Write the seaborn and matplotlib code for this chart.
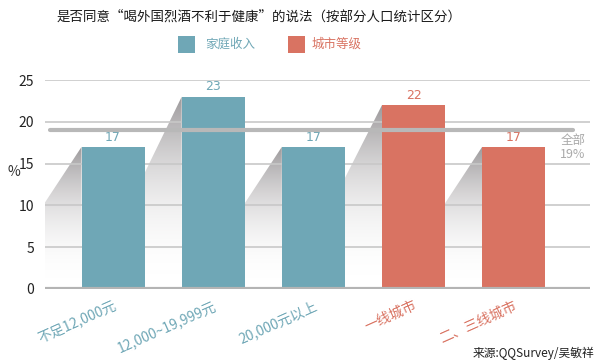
import numpy as np
import pandas as pd
import matplotlib
matplotlib.use("Agg")
import matplotlib.pyplot as plt
import seaborn as sns
from matplotlib.patches import Polygon, Rectangle

categories = ["不足12,000元", "12,000~19,999元", "20,000元以上", "一线城市", "二、三线城市"]
values = [17, 23, 17, 22, 17]
groups = ["家庭收入", "家庭收入", "家庭收入", "城市等级", "城市等级"]
overall = 19
title = "是否同意“喝外国烈酒不利于健康”的说法（按部分人口统计区分）"
source = "来源:QQSurvey/吴敏祥"

blue = "#6fa7b6"
red = "#d97362"
palette = {"家庭收入": blue, "城市等级": red}

sns.set_style("white")
plt.rcParams['font.family'] = ['Noto Sans CJK SC', 'DejaVu Sans']

df = pd.DataFrame({"cat": categories, "val": values, "grp": groups})

fig = plt.figure(figsize=(6, 3.62), dpi=100)
ax = fig.add_axes([0.075, 0.2017, 0.908, 0.5773])

sns.barplot(data=df, x="cat", y="val", hue="grp", palette=palette, dodge=False,
            width=0.63, saturation=1, ax=ax, legend=False, zorder=3, linewidth=0)

for y in [5, 10, 15, 20, 25]:
    ax.axhline(y, color="#c8c8c8", lw=1.2, zorder=1)
ax.axhline(0, color="#b4b4b4", lw=3, zorder=4)
ax.axhline(overall, xmin=0.01, xmax=0.97, color="#b8b8b8", lw=3, zorder=4)

# shadows derived from bar patches
grad = np.linspace(1, 0, 256).reshape(-1, 1)
cmap = matplotlib.colors.LinearSegmentedColormap.from_list("sh", ["#ffffff", "#9c999b"])
for p in ax.patches:
    x0 = p.get_x()
    h = p.get_height()
    poly = Polygon([(x0, h), (x0 - 0.42, h * 0.55), (x0 - 0.42, 0), (x0, 0)],
                   closed=True, transform=ax.transData, facecolor="none", edgecolor="none")
    ax.add_patch(poly)
    im = ax.imshow(grad ** 2.2, extent=(x0 - 0.42, x0, 0, h), cmap=cmap, aspect="auto",
                   zorder=0.5, vmin=0, vmax=1)
    im.set_clip_path(poly)
ax.set_xlim(-0.68, 4.76)
ax.set_ylim(0, 25)
ax.set_yticks([0, 5, 10, 15, 20, 25])

for i, (v, g) in enumerate(zip(values, groups)):
    ax.text(i, v + 0.4, str(v), ha="center", va="bottom", fontsize=9,
            color=palette[g], family=['DejaVu Sans'])

ax.text(4.72, overall - 0.4, "全部\n19%", ha="right", va="top", fontsize=9,
        color="#aaaaaa", linespacing=1.1)

ax.set_xlabel("")
ax.set_ylabel("%", rotation=0, fontsize=10, color="#333333", va="center")
ax.yaxis.set_label_coords(-0.058, 0.56)
ax.tick_params(axis="y", length=0, labelsize=10, colors="#222222", pad=8)
ax.tick_params(axis="x", length=0, pad=7)
ax.set_xticks(range(len(categories)))
ax.set_xticklabels(categories, rotation=24, ha="right", fontsize=10,
                   rotation_mode="anchor")
for lbl, g in zip(ax.get_xticklabels(), groups):
    lbl.set_color(palette[g])
for s in ax.spines.values():
    s.set_visible(False)

fig.text(0.432, 0.953, title, ha="center", va="center", fontsize=9.7, color="#1a1a1a")

# legend
fig.patches.append(Rectangle((178 / 600, 1 - 53 / 362), 17 / 600, 17 / 362,
                             transform=fig.transFigure, facecolor=blue, edgecolor="none"))
fig.text(205 / 600, 1 - 44 / 362, "家庭收入", ha="left", va="center", fontsize=9, color=blue)
fig.patches.append(Rectangle((288 / 600, 1 - 53 / 362), 17 / 600, 17 / 362,
                             transform=fig.transFigure, facecolor=red, edgecolor="none"))
fig.text(312 / 600, 1 - 44 / 362, "城市等级", ha="left", va="center", fontsize=9, color=red)

fig.text(0.99, 0.025, source, ha="right", va="center", fontsize=8.5, color="#222222")

fig.savefig("out.png", dpi=100)
